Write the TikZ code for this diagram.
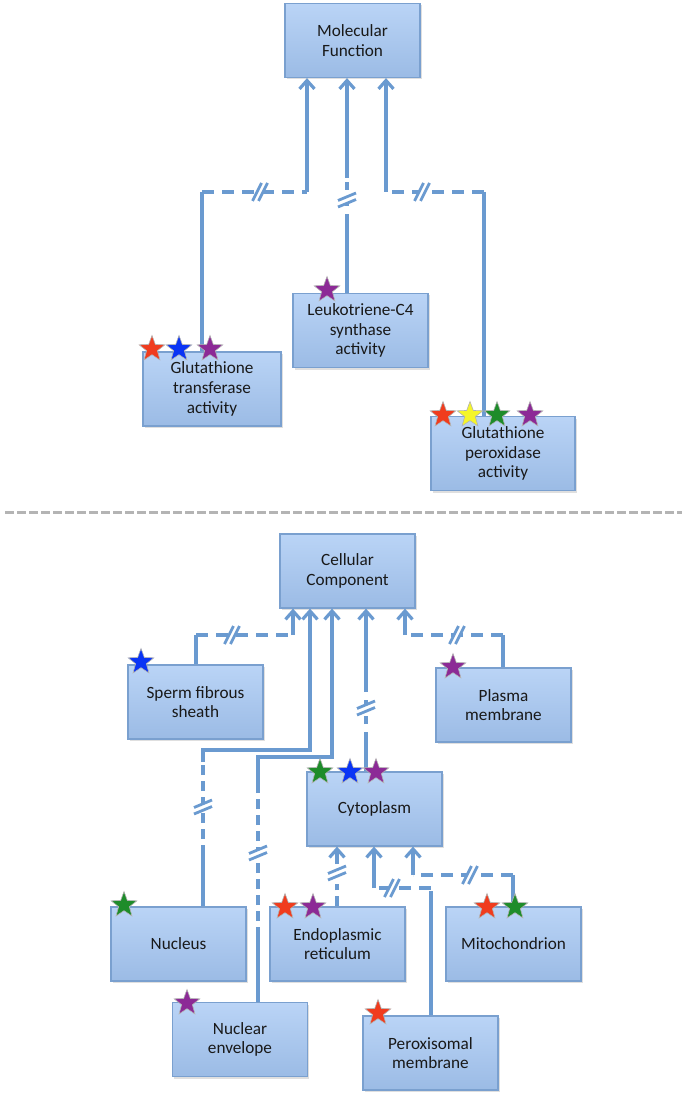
\documentclass[tikz,border=0pt]{standalone}
\usepackage{fontspec}
\setmainfont{Carlito}
\usetikzlibrary{arrows.meta,shapes.geometric,shadows,calc}
\definecolor{lnc}{HTML}{6A9AD0}
\definecolor{boxtop}{HTML}{BAD4F6}
\definecolor{boxbot}{HTML}{9BBBE5}
\definecolor{boxedge}{HTML}{7AA0CF}
\definecolor{sred}{HTML}{F03C1E}
\definecolor{sblue}{HTML}{0A34F5}
\definecolor{spurple}{HTML}{8C2A96}
\definecolor{sgreen}{HTML}{1E8C2A}
\definecolor{syellow}{HTML}{F5F52A}
\definecolor{sepc}{HTML}{B4B4B4}
\tikzset{
  box/.style={draw=boxedge,line width=0.6pt,top color=boxtop,bottom color=boxbot,
    minimum height=37pt,minimum width=67.5pt,align=center,inner sep=2pt,
    font=\fontsize{8.6pt}{9.9pt}\selectfont,text=black!90,
    drop shadow={shadow xshift=0.8pt,shadow yshift=-1pt,opacity=0.25}},
  conn/.style={draw=lnc,line width=1.6pt},
  dsh/.style={conn,dash pattern=on 6pt off 4pt},
  dashv/.style={conn,dash pattern=on 5pt off 3pt},
  arr/.style={conn,-{Straight Barb[length=4.2pt,width=7.5pt]}},
  st/.style={star,star points=5,star point ratio=2.4,minimum size=13.5pt,inner sep=0pt,
    draw=gray!60,line width=0.3pt},
  brkh/.pic={\fill[white] (-3,-3.5) rectangle (3,3.5);
    \draw[lnc,line width=1.4pt] (-7.5,9)--(1.5,-9) (-1.5,9)--(7.5,-9);},
  brkv/.pic={\fill[white] (-3.5,-3) rectangle (3.5,3);
    \draw[lnc,line width=1.4pt] (-9,0.5)--(9,-7) (-9,7)--(9,-0.5);}
}
\begin{document}
\begin{tikzpicture}[x=0.5pt,y=-0.5pt]
\useasboundingbox (0,0) rectangle (685,1096);

% ---------- molecular function ----------
\node[box] (mf) at (352.5,40.5) {Molecular\\Function};
\coordinate (a1) at (202,192); \coordinate (a2) at (307,192);
\coordinate (b1) at (347,222); \coordinate (b2) at (347,178);
\coordinate (c1) at (484,192); \coordinate (c2) at (386,192);

\node[box,minimum width=69pt] (gt) at (212,389) {Glutathione\\transferase\\activity};
\node[box] (lk) at (360.5,330.5) {Leukotriene-C4\\synthase\\activity};
\node[box,minimum width=72pt] (gp) at (503,453.5) {Glutathione\\peroxidase\\activity};

\draw[conn] (gt.north -| a1) -- (a1);
\draw[dsh] (a1) -- (a2);
\draw[arr] (a2) -- (mf.south -| a2);
\pic at (260,192) {brkh};

\draw[conn] (lk.north -| b1) -- (b1);
\draw[conn,dash pattern=on 4pt off 4pt] (b1) -- (b2);
\draw[arr] (b2) -- (mf.south -| b2);
\pic at (347,200) {brkv};

\draw[conn] (gp.north -| c1) -- (c1);
\draw[dsh] (c1) -- (c2);
\draw[arr] (c2) -- (mf.south -| c2);
\pic at (422,192) {brkh};

% separator
\coordinate (sepL) at (5,512); \coordinate (sepR) at (682,512);
\draw[sepc,line width=1.5pt,dash pattern=on 4.5pt off 1.5pt] (sepL) -- (sepR);

% ---------- cellular component ----------
\node[box] (cc) at (347.5,571) {Cellular\\Component};
\node[box] (sf) at (195.5,702) {Sperm fibrous\\sheath};
\node[box] (pm) at (503.5,705) {Plasma\\membrane};
\node[box] (cy) at (374.5,809) {Cytoplasm};
\node[box] (nu) at (178.5,944) {Nucleus};
\node[box] (er) at (337.5,944) {Endoplasmic\\reticulum};
\node[box] (mi) at (513.5,944) {Mitochondrion};
\node[box] (ne) at (240,1039.5) {Nuclear\\envelope};
\node[box] (pe) at (430.5,1053) {Peroxisomal\\membrane};

\coordinate (d1) at (196,635); \coordinate (d2) at (293,635);
\draw[conn] (sf.north -| d1) -- (d1);
\draw[dsh] (d1) -- (d2);
\draw[arr] (d2) -- (cc.south -| d2);
\pic at (232,635) {brkh};

\coordinate (e1) at (503,635); \coordinate (e2) at (405,635);
\draw[conn] (pm.north -| e1) -- (e1);
\draw[dsh] (e1) -- (e2);
\draw[arr] (e2) -- (cc.south -| e2);
\pic at (457,635) {brkh};

\coordinate (f1) at (203,855); \coordinate (f2) at (203,762);
\coordinate (f3) at (203,750); \coordinate (f4) at (310,750);
\draw[conn] (nu.north -| f1) -- (f1);
\draw[dashv] (f1) -- (f2);
\draw[arr] (f2) -- (f3) -- (f4) -- (cc.south -| f4);
\pic at (203,807) {brkv};

\coordinate (g1) at (258,937); \coordinate (g2) at (258,790);
\coordinate (g3) at (258,757); \coordinate (g4) at (332,757);
\draw[conn] (ne.north -| g1) -- (g1);
\draw[dashv] (g1) -- (g2);
\draw[arr] (g2) -- (g3) -- (g4) -- (cc.south -| g4);
\pic at (258,853) {brkv};

\coordinate (h1) at (366,740); \coordinate (h2) at (366,687);
\draw[conn] (cy.north -| h1) -- (h1);
\draw[conn,dash pattern=on 4pt off 4pt] (h1) -- (h2);
\draw[arr] (h2) -- (cc.south -| h2);
\pic at (366,708) {brkv};

\coordinate (i1) at (337,884); \coordinate (i2) at (337,864);
\draw[dashv] (er.north -| i1) -- (i1);
\draw[arr] (i2) -- (cy.south -| i2);
\pic at (337,873) {brkv};

\coordinate (j1) at (374,888); \coordinate (j2) at (431,888); \coordinate (j3) at (431,891);
\draw[conn] (pe.north -| j3) -- (j3);
\draw[dsh] (j2) -- (j1);
\draw[arr] (j1) -- (cy.south -| j1);
\pic at (392,888) {brkh};

\coordinate (k1) at (413,875); \coordinate (k2) at (513,875);
\draw[conn] (mi.north -| k2) -- (k2);
\draw[dsh] (k2) -- (k1);
\draw[arr] (k1) -- (cy.south -| k1);
\pic at (470,875) {brkh};

% ---------- stars ----------
\node[st,fill=sred] (s1) at (152,349) {};
\node[st,fill=sblue] (s2) at (179,349) {};
\node[st,fill=spurple] (s3) at (210,349) {};
\node[st,fill=spurple] (s4) at (327,290) {};
\node[st,fill=sred] (s5) at (443,415) {};
\node[st,fill=syellow] (s6) at (470,415) {};
\node[st,fill=sgreen] (s7) at (497,415) {};
\node[st,fill=spurple] (s8) at (530,415) {};
\node[st,fill=sblue] (s9) at (141,662) {};
\node[st,fill=spurple] (s10) at (453,667) {};
\node[st,fill=sgreen] (s11) at (320,772) {};
\node[st,fill=sblue] (s12) at (350,772) {};
\node[st,fill=spurple] (s13) at (376,772) {};
\node[st,fill=sgreen] (s14) at (124,905) {};
\node[st,fill=sred] (s15) at (285,907) {};
\node[st,fill=spurple] (s16) at (313,907) {};
\node[st,fill=sred] (s17) at (487,907) {};
\node[st,fill=sgreen] (s18) at (515,907) {};
\node[st,fill=spurple] (s19) at (187,1003) {};
\node[st,fill=sred] (s20) at (378,1013) {};
\end{tikzpicture}
\end{document}
